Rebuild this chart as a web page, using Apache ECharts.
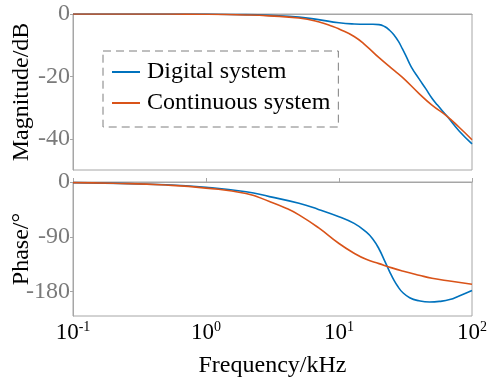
<!DOCTYPE html>
<html>
<head>
<meta charset="utf-8">
<script src="https://cdn.jsdelivr.net/npm/echarts@6/dist/echarts.min.js"></script>
<style>
html,body{margin:0;padding:0;background:#fff;}
#c{width:493px;height:381px;}
</style>
</head>
<body>
<div id="c"></div>
<script>
// ---- data ----
const seriesNames = ['Digital system', 'Continuous system'];

const freqMagDigital = [0.1, 0.5, 1, 2, 3, 5, 7, 10, 13, 16, 18, 20, 22, 24, 26, 28, 30, 32, 35, 40, 45, 50, 55, 65, 80, 100];
const magDigital     = [0, 0, -0.05, -0.2, -0.45, -1.0, -1.8, -2.8, -3.2, -3.3, -3.3, -3.4, -4.0, -5.2, -6.8, -8.8, -11.2, -13.6, -17.0, -20.8, -24.0, -27.0, -29.2, -32.8, -37.5, -41.6];

const freqMagCont = [0.1, 0.5, 1, 2, 3, 5, 7, 9, 10, 13, 16, 20, 25, 30, 40, 50, 65, 80, 100];
const magCont     = [0, -0.02, -0.08, -0.3, -0.6, -1.3, -2.5, -4.0, -4.8, -7.2, -10.2, -14.0, -17.5, -20.3, -25.5, -29.2, -32.8, -36.3, -40.3];

const freqPhDigital = [0.1, 0.5, 1, 2, 3, 5, 7, 10, 13, 16, 18, 20, 22, 24, 26, 28, 30, 34, 40, 48, 57, 68, 80, 100];
const phDigital     = [-1, -4.5, -8.5, -16, -24, -35, -45, -57, -68, -82, -94, -110, -129, -147, -162, -173, -181, -190, -195, -197, -196, -193, -187, -178];

const freqPhCont = [0.1, 0.2, 0.5, 1, 2, 3, 4, 5, 7, 10, 13, 16, 20, 25, 30, 40, 50, 70, 100];
const phCont     = [-1, -2, -5, -10, -19, -32, -43, -54, -75, -101, -117, -127, -134, -141, -146, -153, -158, -163, -168];

const xTickValues = [0.1, 1, 10, 100];
const xTickExps   = ['-1', '0', '1', '2'];
const magTicks    = [0, -20, -40];
const phaseTicks  = [0, -90, -180];
// ---------------------------------------

const FONT = "'Liberation Serif', 'Times New Roman', serif";
const C_BLUE = '#0072BD', C_ORANGE = '#D95319';
const GRAY_AX = '#a6a6a6', GRAY_TXT = '#7a7a7a';

function pairs(xs, ys){ return xs.map((x,i)=>[x, ys[i]]); }

function xLabel(v){
  const e = Math.round(Math.log10(v));
  let idx = -1;
  xTickValues.forEach((t,i)=>{ if (Math.round(Math.log10(t)) === e) idx = i; });
  if (idx < 0) return '';
  return '{b|10}{s|' + xTickExps[idx] + '}';
}

const chart = echarts.init(document.getElementById('c'), null, {renderer:'canvas'});
const baseX = {
  type: 'log', logBase: 10, min: 0.1, max: 100, interval: 1,
  axisLine: {show: true, lineStyle: {color: GRAY_AX, width: 1}},
  splitLine: {show: false}, minorTick: {show: false}
};
function lineSeries(i, axis, xs, ys, color, z){
  return {name: seriesNames[i], type: 'line', xAxisIndex: axis, yAxisIndex: axis, data: pairs(xs, ys),
    showSymbol: false, smooth: 0.5, lineStyle: {color: color, width: 1.6}, itemStyle: {color: color}, z: z};
}
chart.setOption({
  animation: false,
  textStyle: {fontFamily: FONT},
  grid: [
    {left: 73, top: 14, width: 399, height: 156, show: true, borderColor: GRAY_AX, borderWidth: 1, containLabel: false, outerBoundsMode: 'none'},
    {left: 73, top: 182, width: 399, height: 134, show: true, borderColor: GRAY_AX, borderWidth: 1, containLabel: false, outerBoundsMode: 'none'}
  ],
  legend: {
    data: seriesNames,
    orient: 'vertical',
    left: 103, top: 51,
    padding: [9, 8, 12, 9],
    itemGap: 7,
    itemWidth: 28, itemHeight: 2,
    icon: 'rect',
    borderColor: '#7f7f7f', borderWidth: 1, borderType: [8, 5],
    textStyle: {fontFamily: FONT, fontSize: 24, color: '#000', lineHeight: 24, padding: [0,0,0,2]}
  },
  xAxis: [
    Object.assign({}, baseX, {gridIndex: 0, axisTick: {show: false}, axisLabel: {show: false}}),
    Object.assign({}, baseX, {
      gridIndex: 1,
      axisTick: {show: true, inside: true, length: 4, lineStyle: {color: GRAY_AX}},
      axisLabel: {
        show: true, margin: 4, formatter: xLabel, color: '#000',
        rich: {
          b: {fontFamily: FONT, fontSize: 23, color: '#000', lineHeight: 26},
          s: {fontFamily: FONT, fontSize: 14, color: '#000', verticalAlign: 'top', lineHeight: 14}
        }
      },
      name: 'Frequency/kHz', nameLocation: 'middle', nameGap: 38, nameMoveOverlap: false,
      nameTextStyle: {fontFamily: FONT, fontSize: 24, color: '#000'}
    })
  ],
  yAxis: [
    {
      gridIndex: 0, type: 'value', min: -50, max: 0,
      axisLine: {show: true, lineStyle: {color: GRAY_AX}},
      axisTick: {show: true, length: 3, customValues: magTicks, lineStyle: {color: GRAY_AX}},
      axisLabel: {show: true, margin: 3, customValues: magTicks, fontFamily: FONT, fontSize: 24, color: GRAY_TXT},
      splitLine: {show: false},
      name: 'Magnitude/dB', nameLocation: 'middle', nameGap: 39, nameMoveOverlap: false,
      nameTextStyle: {fontFamily: FONT, fontSize: 24, color: '#000'}
    },
    {
      gridIndex: 1, type: 'value', min: -220, max: 0,
      axisLine: {show: true, lineStyle: {color: GRAY_AX}},
      axisTick: {show: true, length: 3, customValues: phaseTicks, lineStyle: {color: GRAY_AX}},
      axisLabel: {show: true, margin: 3, customValues: phaseTicks, fontFamily: FONT, fontSize: 24, color: GRAY_TXT},
      splitLine: {show: false},
      name: 'Phase/°', nameLocation: 'middle', nameGap: 39, nameMoveOverlap: false,
      nameTextStyle: {fontFamily: FONT, fontSize: 24, color: '#000'}
    }
  ],
  series: [
    lineSeries(0, 0, freqMagDigital, magDigital, C_BLUE, 3),
    lineSeries(1, 0, freqMagCont, magCont, C_ORANGE, 4),
    lineSeries(0, 1, freqPhDigital, phDigital, C_BLUE, 3),
    lineSeries(1, 1, freqPhCont, phCont, C_ORANGE, 4)
  ]
});
</script>
</body>
</html>
